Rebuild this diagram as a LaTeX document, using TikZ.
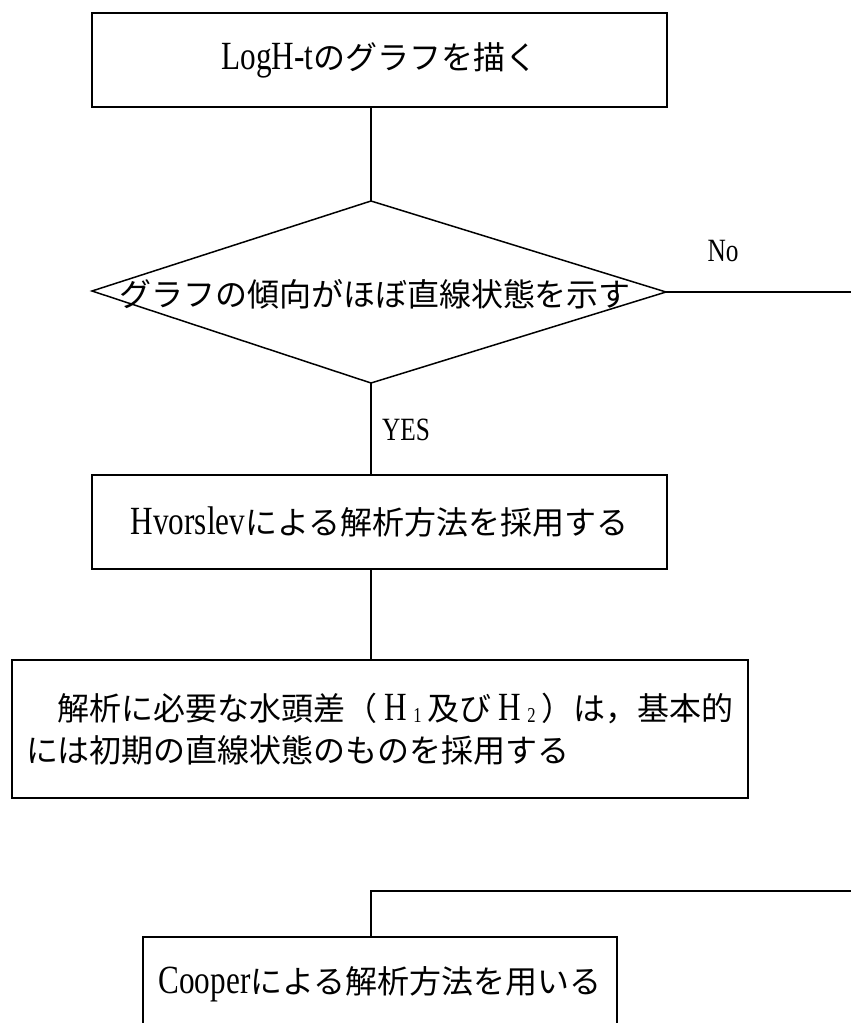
\documentclass[tikz,border=0pt]{standalone}
\usepackage{fontspec}
\setmainfont[FakeStretch=0.78,Scale=1.25]{Liberation Serif}
\newfontfamily\jp{Noto Sans CJK JP}
\newcommand\Hsub[1]{\makebox[50pt][c]{H\,\raisebox{-2pt}{\fontsize{17pt}{17pt}\selectfont #1}}}
\begin{document}
\begin{tikzpicture}[x=1pt,y=-1pt,
  line/.style={line width=1.5pt},
  box/.style={draw,line width=1.5pt,inner sep=0pt,minimum height=94pt,font=\fontsize{32pt}{42pt}\selectfont},
  lbl/.style={font=\fontsize{26pt}{26pt}\selectfont,inner sep=0pt}]
\clip (0,0) rectangle (851,1023);
\fill[white] (0,0) rectangle (851,1023);
\coordinate (spine) at (371,0);
% boxes
\node[box,minimum width=575pt] (b1) at (379.5,60) {LogH-t{\jp のグラフを描く}};
\node[box,minimum width=575pt] (b2) at (379.5,522) {Hvorslev{\jp による解析方法を採用する}};
\node[box,minimum width=736pt,minimum height=138pt,align=left] (b3) at (380,729)
  {\hspace*{32pt}{\jp 解析に必要な水頭差（}\Hsub{1}{\jp 及び}\Hsub{2}{\jp ）は，基本的}\\
   {\jp には初期の直線状態のものを採用する}};
\node[box,minimum width=474pt] (b4) at (380,984) {Cooper{\jp による解析方法を用いる}};
% decision
\coordinate (dtop) at (371,201);
\coordinate (dright) at (666,292);
\coordinate (dbot) at (371,383);
\coordinate (dleft) at (92,291);
\draw[line] (dtop) -- (dright) -- (dbot) -- (dleft) -- cycle;
\node[font=\fontsize{32pt}{32pt}\selectfont,inner sep=0pt] (dtext) at (375,294) {\jp グラフの傾向がほぼ直線状態を示す};
% labels
\node[lbl] (no) at (723,251) {No};
\node[lbl] (yes) at (406,430) {YES};
% connectors
\draw[line] (b1.south -| spine) -- (dtop);
\draw[line] (dbot) -- (b2.north -| spine);
\draw[line] (b2.south -| spine) -- (b3.north -| spine);
\coordinate (eR) at (900,292);
\coordinate (eR2) at (900,891);
\coordinate (ret) at (371,891);
\draw[line] (dright) -- (eR) -- (eR2) -- (ret) -- (b4.north -| spine);
\end{tikzpicture}
\end{document}
